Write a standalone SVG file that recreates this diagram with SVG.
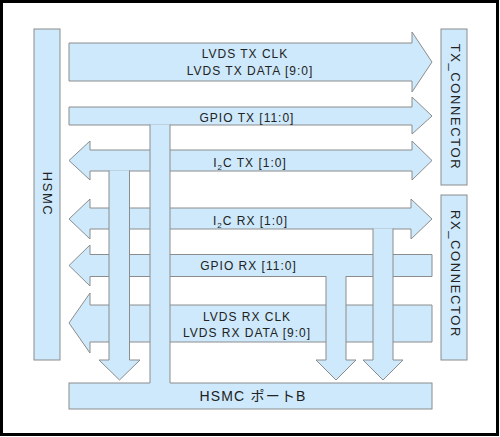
<svg xmlns="http://www.w3.org/2000/svg" width="500" height="437" viewBox="0 0 500 437">
<style>
.sh{fill:#cde9fb;stroke:#8c8c8c;stroke-width:1;stroke-linejoin:miter}
.fl{fill:#cde9fb;stroke:none}
.ln{fill:none;stroke:#8c8c8c;stroke-width:1}
.t{font-family:"Liberation Sans",Arial,sans-serif;font-size:12px;letter-spacing:1px;fill:#222;text-anchor:middle}
.v{font-family:"Liberation Sans",Arial,sans-serif;font-size:13px;letter-spacing:1.6px;fill:#222;text-anchor:middle;dominant-baseline:central}
.j{font-family:"Liberation Sans","Noto Sans CJK JP",sans-serif;font-size:14px;letter-spacing:1.2px;fill:#222;text-anchor:middle}
</style>
<rect x="0" y="0" width="500" height="437" fill="#ffffff"/>
<rect x="1.5" y="1.5" width="496" height="433" fill="#ffffff" stroke="#000" stroke-width="3"/>

<g id="hsmc">
<rect class="sh" x="34" y="29" width="26" height="331"/>
<text class="v" x="47" y="194" transform="rotate(90 47 194)">HSMC</text>
</g>
<g id="tx_connector">
<rect class="sh" x="441" y="29" width="26" height="156"/>
<text class="v" x="455" y="107" transform="rotate(90 455 107)">TX_CONNECTOR</text>
</g>
<g id="rx_connector">
<rect class="sh" x="441" y="195" width="26" height="165"/>
<text class="v" x="455" y="274" transform="rotate(90 455 274)">RX_CONNECTOR</text>
</g>
<g id="hsmc_portb">
<rect class="sh" x="69" y="383" width="363" height="26"/>
</g>

<g id="connectors">
<!-- horizontal buses -->
<polygon id="lvds_tx" class="sh" points="69,43 412,43 412,32 432,62 412,92 412,81 69,81"/>
<polygon id="gpio_tx" class="sh" points="69,107 412,107 412,97 432,116 412,134 412,125 69,125"/>
<polygon id="i2c_tx" class="sh" points="69,160.5 90,141 90,150 412,150 412,141 432,160.5 412,180 412,171 90,171 90,180"/>
<polygon id="i2c_rx" class="sh" points="69,219 90,199 90,208 411,208 411,199 432,219 411,239 411,229 90,229 90,239"/>
<polygon id="gpio_rx" class="sh" points="69,265.5 90,245 90,254.5 432,254.5 432,276.5 90,276.5 90,286"/>
<polygon id="lvds_rx" class="sh" points="69,323 90,293 90,305 432,305 432,342 90,342 90,353"/>
<!-- vertical stems (drawn over crossing buses) -->
<path id="gpio_rx_down" class="sh" d="M326,276 V360 H316 L336,380 L356,360 H346 V276"/>
<path id="i2c_rx_down" class="sh" d="M373,228.5 V360 H363 L383,380 L403,360 H393 V228.5"/>
<path id="i2c_tx_down" class="sh" d="M109,170.5 V360 H99 L119.5,380 L140,360 H129.5 V170.5"/>
<rect class="fl" x="150" y="124.5" width="20" height="259.5"/>
<path id="gpio_tx_down" class="ln" d="M150,124.5 V383 M170,124.5 V383"/>
</g>

<g id="labels">
<text class="t" x="245" y="58">LVDS TX CLK</text>
<text class="t" x="250" y="75">LVDS TX DATA [9:0]</text>
<text class="t" x="247" y="122">GPIO TX [11:0]</text>
<text class="t" x="250" y="167">I<tspan font-size="8" dy="3">2</tspan><tspan dy="-3">C TX [1:0]</tspan></text>
<text class="t" x="250.5" y="225">I<tspan font-size="8" dy="3">2</tspan><tspan dy="-3">C RX [1:0]</tspan></text>
<text class="t" x="248.5" y="270">GPIO RX [11:0]</text>
<text class="t" x="247" y="321">LVDS RX CLK</text>
<text class="t" x="247" y="337">LVDS RX DATA [9:0]</text>
<text class="j" x="253" y="401">HSMC ポートB</text>
</g>
</svg>
